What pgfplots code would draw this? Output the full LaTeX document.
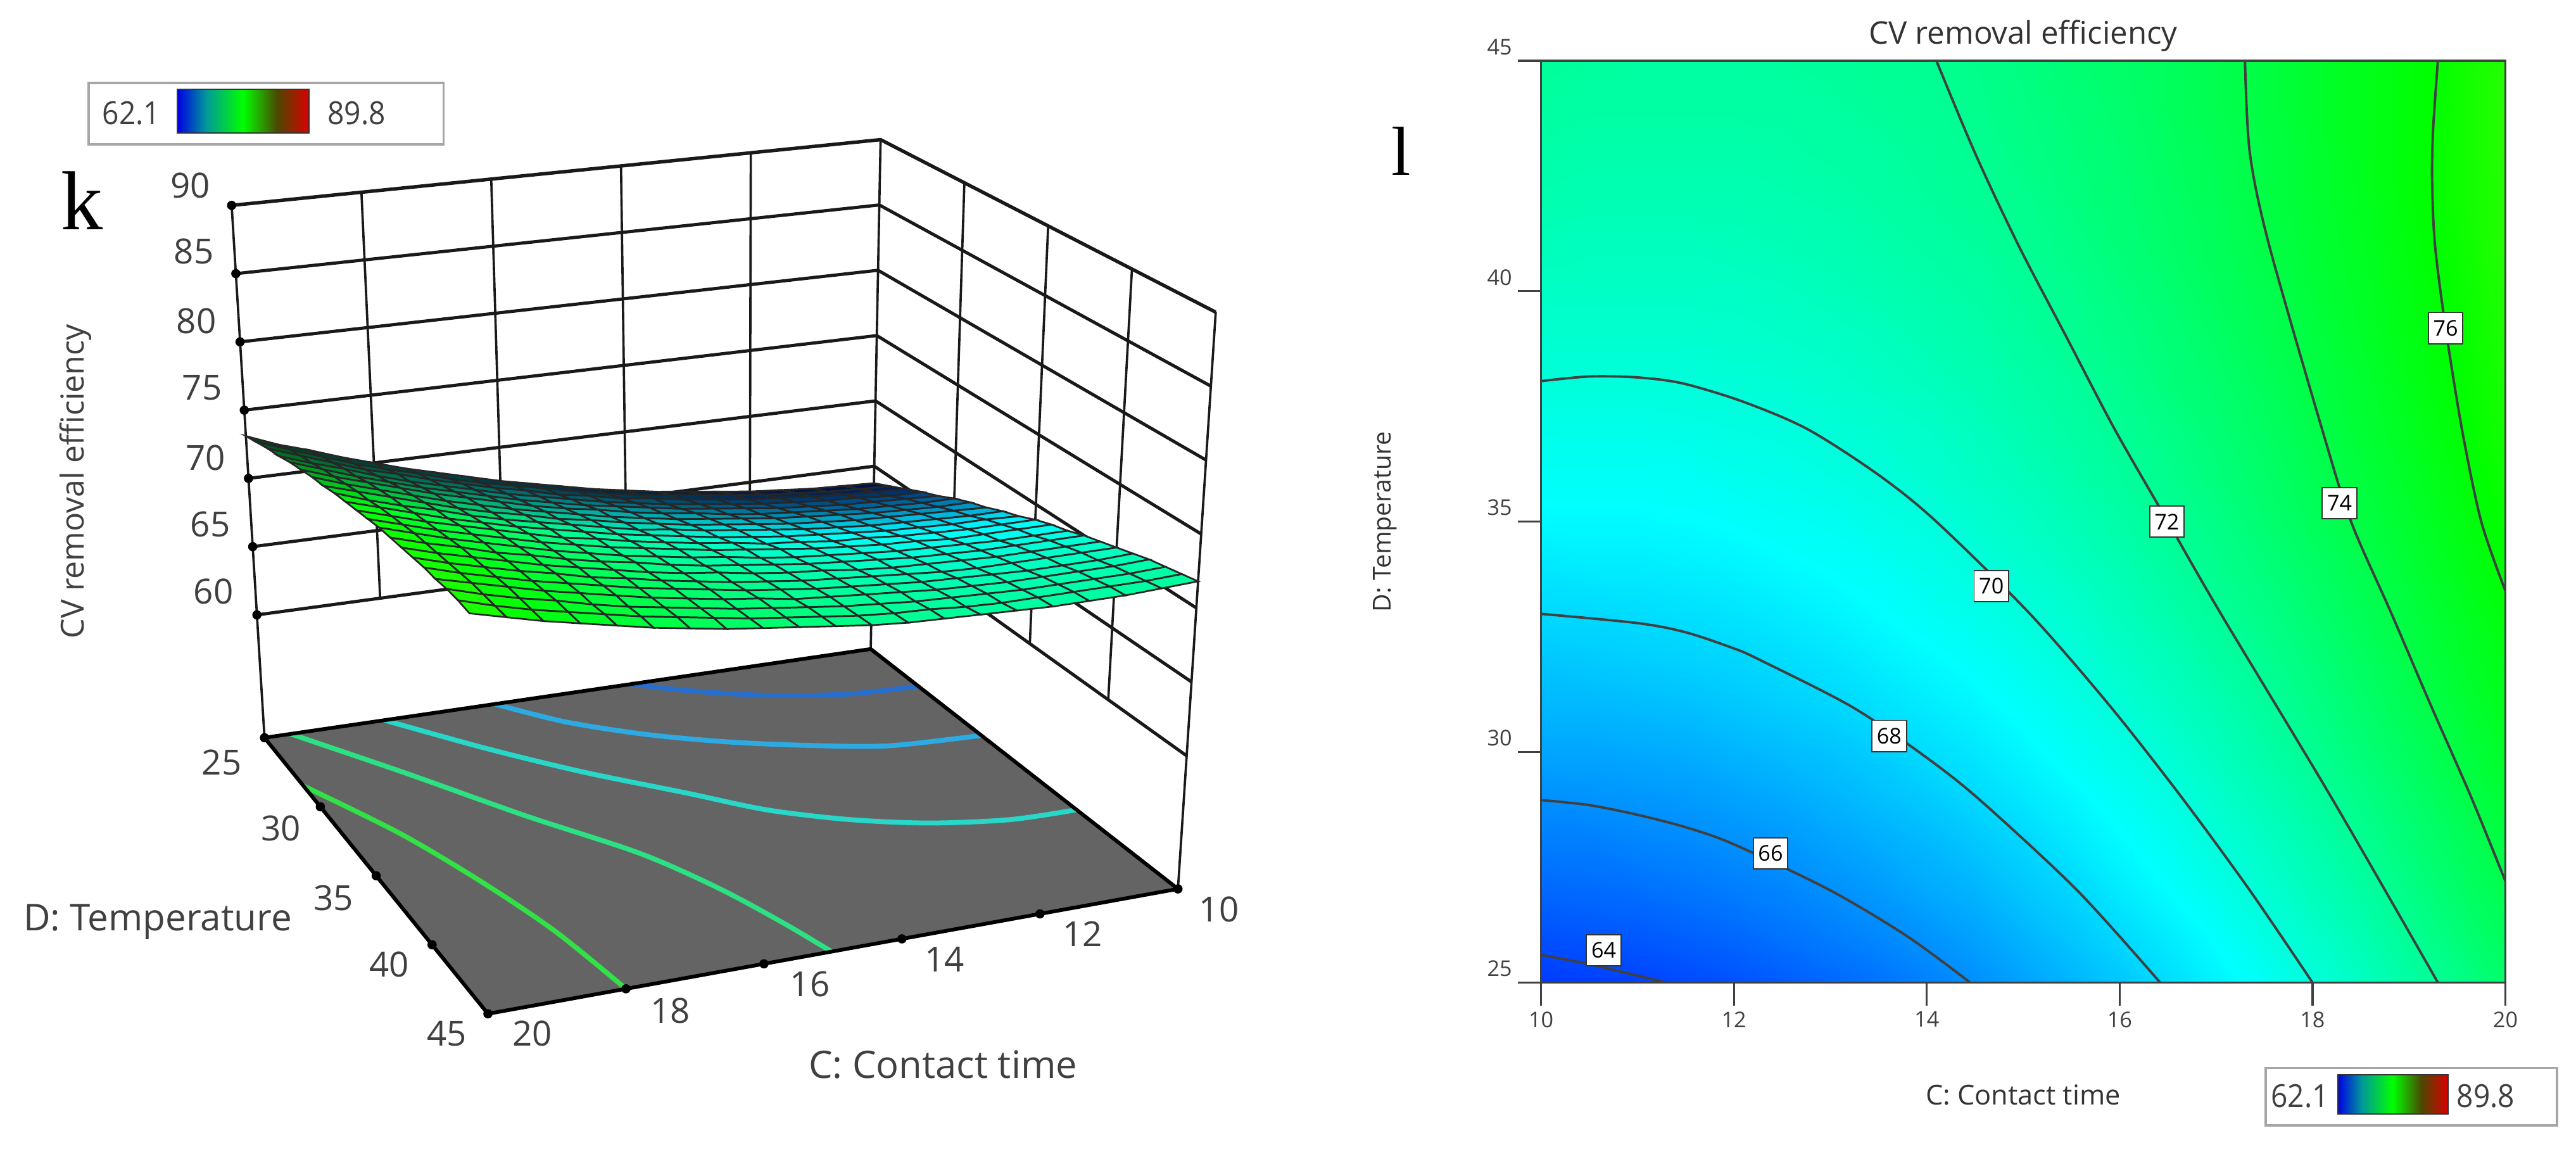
\documentclass[border=0pt]{standalone}
\usepackage{fontspec}
\setmainfont{Open Sans}
\newfontfamily\letterfont{Liberation Serif}
\usepackage{pgfplots}
\usepackage{pgfplotstable}
\pgfplotsset{compat=1.18}

\definecolor{floorgray}{RGB}{100,100,100}
\definecolor{c66}{RGB}{40,110,205}
\definecolor{c68}{RGB}{45,170,225}
\definecolor{c70}{RGB}{40,215,200}
\definecolor{c72}{RGB}{45,225,130}
\definecolor{c74}{RGB}{50,225,70}
\definecolor{wall}{RGB}{25,25,25}

\pgfdeclarehorizontalshading{legbar}{100bp}{
  color(0bp)=(blue); color(25bp)=(blue!90!black); color(36bp)=(teal!80!cyan);
  color(50bp)=(green); color(63bp)=(green!40!black!70!red); color(75bp)=(red!85!black); color(100bp)=(red)}

% C, D, response: same surface in both panels
\pgfplotstableread[row sep=\\]{
C D z\\
10 25 63.7\\ 10.5 25 63.8\\ 11 25 63.9\\ 11.5 25 64.1\\ 12 25 64.3\\ 12.5 25 64.6\\ 13 25 64.9\\ 13.5 25 65.2\\ 14 25 65.6\\ 14.5 25 66.0\\ 15 25 66.5\\ 15.5 25 67.0\\ 16 25 67.5\\ 16.5 25 68.1\\ 17 25 68.7\\ 17.5 25 69.3\\ 18 25 70.0\\ 18.5 25 70.7\\ 19 25 71.5\\ 19.5 25 72.2\\ 20 25 73.1\\
10 26 64.3\\ 10.5 26 64.4\\ 11 26 64.5\\ 11.5 26 64.7\\ 12 26 64.9\\ 12.5 26 65.2\\ 13 26 65.5\\ 13.5 26 65.8\\ 14 26 66.1\\ 14.5 26 66.5\\ 15 26 67.0\\ 15.5 26 67.5\\ 16 26 68.0\\ 16.5 26 68.5\\ 17 26 69.1\\ 17.5 26 69.8\\ 18 26 70.4\\ 18.5 26 71.1\\ 19 26 71.9\\ 19.5 26 72.7\\ 20 26 73.5\\
10 27 64.9\\ 10.5 27 65.0\\ 11 27 65.1\\ 11.5 27 65.3\\ 12 27 65.5\\ 12.5 27 65.7\\ 13 27 66.0\\ 13.5 27 66.3\\ 14 27 66.7\\ 14.5 27 67.0\\ 15 27 67.5\\ 15.5 27 67.9\\ 16 27 68.5\\ 16.5 27 69.0\\ 17 27 69.6\\ 17.5 27 70.2\\ 18 27 70.9\\ 18.5 27 71.5\\ 19 27 72.3\\ 19.5 27 73.1\\ 20 27 73.9\\
10 28 65.5\\ 10.5 28 65.5\\ 11 28 65.7\\ 11.5 28 65.8\\ 12 28 66.0\\ 12.5 28 66.2\\ 13 28 66.5\\ 13.5 28 66.8\\ 14 28 67.1\\ 14.5 28 67.5\\ 15 28 67.9\\ 15.5 28 68.4\\ 16 28 68.9\\ 16.5 28 69.4\\ 17 28 70.0\\ 17.5 28 70.6\\ 18 28 71.2\\ 18.5 28 71.9\\ 19 28 72.7\\ 19.5 28 73.4\\ 20 28 74.2\\
10 29 66.0\\ 10.5 29 66.1\\ 11 29 66.2\\ 11.5 29 66.3\\ 12 29 66.5\\ 12.5 29 66.7\\ 13 29 67.0\\ 13.5 29 67.3\\ 14 29 67.6\\ 14.5 29 68.0\\ 15 29 68.4\\ 15.5 29 68.8\\ 16 29 69.3\\ 16.5 29 69.8\\ 17 29 70.4\\ 17.5 29 71.0\\ 18 29 71.6\\ 18.5 29 72.3\\ 19 29 73.0\\ 19.5 29 73.8\\ 20 29 74.6\\
10 30 66.6\\ 10.5 30 66.6\\ 11 30 66.7\\ 11.5 30 66.8\\ 12 30 67.0\\ 12.5 30 67.2\\ 13 30 67.4\\ 13.5 30 67.7\\ 14 30 68.1\\ 14.5 30 68.4\\ 15 30 68.8\\ 15.5 30 69.3\\ 16 30 69.7\\ 16.5 30 70.2\\ 17 30 70.8\\ 17.5 30 71.4\\ 18 30 72.0\\ 18.5 30 72.7\\ 19 30 73.4\\ 19.5 30 74.1\\ 20 30 74.9\\
10 31 67.1\\ 10.5 31 67.1\\ 11 31 67.2\\ 11.5 31 67.3\\ 12 31 67.5\\ 12.5 31 67.7\\ 13 31 67.9\\ 13.5 31 68.2\\ 14 31 68.5\\ 14.5 31 68.8\\ 15 31 69.2\\ 15.5 31 69.6\\ 16 31 70.1\\ 16.5 31 70.6\\ 17 31 71.1\\ 17.5 31 71.7\\ 18 31 72.3\\ 18.5 31 73.0\\ 19 31 73.7\\ 19.5 31 74.4\\ 20 31 75.2\\
10 32 67.5\\ 10.5 32 67.6\\ 11 32 67.7\\ 11.5 32 67.8\\ 12 32 67.9\\ 12.5 32 68.1\\ 13 32 68.3\\ 13.5 32 68.6\\ 14 32 68.9\\ 14.5 32 69.2\\ 15 32 69.6\\ 15.5 32 70.0\\ 16 32 70.5\\ 16.5 32 70.9\\ 17 32 71.5\\ 17.5 32 72.0\\ 18 32 72.6\\ 18.5 32 73.3\\ 19 32 74.0\\ 19.5 32 74.7\\ 20 32 75.4\\
10 33 68.0\\ 10.5 33 68.0\\ 11 33 68.1\\ 11.5 33 68.2\\ 12 33 68.3\\ 12.5 33 68.5\\ 13 33 68.7\\ 13.5 33 69.0\\ 14 33 69.3\\ 14.5 33 69.6\\ 15 33 70.0\\ 15.5 33 70.3\\ 16 33 70.8\\ 16.5 33 71.3\\ 17 33 71.8\\ 17.5 33 72.3\\ 18 33 72.9\\ 18.5 33 73.6\\ 19 33 74.2\\ 19.5 33 74.9\\ 20 33 75.7\\
10 34 68.4\\ 10.5 34 68.5\\ 11 34 68.5\\ 11.5 34 68.6\\ 12 34 68.7\\ 12.5 34 68.9\\ 13 34 69.1\\ 13.5 34 69.3\\ 14 34 69.6\\ 14.5 34 69.9\\ 15 34 70.3\\ 15.5 34 70.7\\ 16 34 71.1\\ 16.5 34 71.6\\ 17 34 72.1\\ 17.5 34 72.6\\ 18 34 73.2\\ 18.5 34 73.8\\ 19 34 74.5\\ 19.5 34 75.2\\ 20 34 75.9\\
10 35 68.9\\ 10.5 35 68.9\\ 11 35 68.9\\ 11.5 35 69.0\\ 12 35 69.1\\ 12.5 35 69.3\\ 13 35 69.4\\ 13.5 35 69.7\\ 14 35 69.9\\ 14.5 35 70.3\\ 15 35 70.6\\ 15.5 35 71.0\\ 16 35 71.4\\ 16.5 35 71.9\\ 17 35 72.3\\ 17.5 35 72.9\\ 18 35 73.5\\ 18.5 35 74.1\\ 19 35 74.7\\ 19.5 35 75.4\\ 20 35 76.1\\
10 36 69.3\\ 10.5 36 69.3\\ 11 36 69.3\\ 11.5 36 69.3\\ 12 36 69.5\\ 12.5 36 69.6\\ 13 36 69.8\\ 13.5 36 70.0\\ 14 36 70.3\\ 14.5 36 70.6\\ 15 36 70.9\\ 15.5 36 71.3\\ 16 36 71.7\\ 16.5 36 72.1\\ 17 36 72.6\\ 17.5 36 73.1\\ 18 36 73.7\\ 18.5 36 74.3\\ 19 36 74.9\\ 19.5 36 75.6\\ 20 36 76.3\\
10 37 69.6\\ 10.5 37 69.6\\ 11 37 69.6\\ 11.5 37 69.7\\ 12 37 69.8\\ 12.5 37 69.9\\ 13 37 70.1\\ 13.5 37 70.3\\ 14 37 70.5\\ 14.5 37 70.8\\ 15 37 71.2\\ 15.5 37 71.5\\ 16 37 71.9\\ 16.5 37 72.3\\ 17 37 72.8\\ 17.5 37 73.3\\ 18 37 73.9\\ 18.5 37 74.5\\ 19 37 75.1\\ 19.5 37 75.8\\ 20 37 76.5\\
10 38 70.0\\ 10.5 38 70.0\\ 11 38 70.0\\ 11.5 38 70.0\\ 12 38 70.1\\ 12.5 38 70.2\\ 13 38 70.4\\ 13.5 38 70.6\\ 14 38 70.8\\ 14.5 38 71.1\\ 15 38 71.4\\ 15.5 38 71.7\\ 16 38 72.1\\ 16.5 38 72.6\\ 17 38 73.0\\ 17.5 38 73.5\\ 18 38 74.1\\ 18.5 38 74.6\\ 19 38 75.3\\ 19.5 38 75.9\\ 20 38 76.6\\
10 39 70.3\\ 10.5 39 70.3\\ 11 39 70.3\\ 11.5 39 70.3\\ 12 39 70.4\\ 12.5 39 70.5\\ 13 39 70.6\\ 13.5 39 70.8\\ 14 39 71.1\\ 14.5 39 71.3\\ 15 39 71.6\\ 15.5 39 72.0\\ 16 39 72.3\\ 16.5 39 72.7\\ 17 39 73.2\\ 17.5 39 73.7\\ 18 39 74.2\\ 18.5 39 74.8\\ 19 39 75.4\\ 19.5 39 76.0\\ 20 39 76.7\\
10 40 70.6\\ 10.5 40 70.6\\ 11 40 70.6\\ 11.5 40 70.6\\ 12 40 70.6\\ 12.5 40 70.7\\ 13 40 70.9\\ 13.5 40 71.1\\ 14 40 71.3\\ 14.5 40 71.5\\ 15 40 71.8\\ 15.5 40 72.1\\ 16 40 72.5\\ 16.5 40 72.9\\ 17 40 73.4\\ 17.5 40 73.8\\ 18 40 74.4\\ 18.5 40 74.9\\ 19 40 75.5\\ 19.5 40 76.1\\ 20 40 76.8\\
10 41 70.9\\ 10.5 41 70.8\\ 11 41 70.8\\ 11.5 41 70.8\\ 12 41 70.9\\ 12.5 41 71.0\\ 13 41 71.1\\ 13.5 41 71.3\\ 14 41 71.5\\ 14.5 41 71.7\\ 15 41 72.0\\ 15.5 41 72.3\\ 16 41 72.7\\ 16.5 41 73.1\\ 17 41 73.5\\ 17.5 41 74.0\\ 18 41 74.5\\ 18.5 41 75.0\\ 19 41 75.6\\ 19.5 41 76.2\\ 20 41 76.9\\
10 42 71.2\\ 10.5 42 71.1\\ 11 42 71.1\\ 11.5 42 71.1\\ 12 42 71.1\\ 12.5 42 71.2\\ 13 42 71.3\\ 13.5 42 71.5\\ 14 42 71.7\\ 14.5 42 71.9\\ 15 42 72.1\\ 15.5 42 72.5\\ 16 42 72.8\\ 16.5 42 73.2\\ 17 42 73.6\\ 17.5 42 74.1\\ 18 42 74.6\\ 18.5 42 75.1\\ 19 42 75.7\\ 19.5 42 76.3\\ 20 42 76.9\\
10 43 71.4\\ 10.5 43 71.3\\ 11 43 71.3\\ 11.5 43 71.3\\ 12 43 71.3\\ 12.5 43 71.4\\ 13 43 71.5\\ 13.5 43 71.6\\ 14 43 71.8\\ 14.5 43 72.0\\ 15 43 72.3\\ 15.5 43 72.6\\ 16 43 72.9\\ 16.5 43 73.3\\ 17 43 73.7\\ 17.5 43 74.1\\ 18 43 74.6\\ 18.5 43 75.2\\ 19 43 75.7\\ 19.5 43 76.3\\ 20 43 77.0\\
10 44 71.6\\ 10.5 44 71.5\\ 11 44 71.5\\ 11.5 44 71.5\\ 12 44 71.5\\ 12.5 44 71.5\\ 13 44 71.6\\ 13.5 44 71.8\\ 14 44 71.9\\ 14.5 44 72.1\\ 15 44 72.4\\ 15.5 44 72.7\\ 16 44 73.0\\ 16.5 44 73.4\\ 17 44 73.8\\ 17.5 44 74.2\\ 18 44 74.7\\ 18.5 44 75.2\\ 19 44 75.7\\ 19.5 44 76.3\\ 20 44 77.0\\
10 45 71.8\\ 10.5 45 71.7\\ 11 45 71.6\\ 11.5 45 71.6\\ 12 45 71.6\\ 12.5 45 71.7\\ 13 45 71.8\\ 13.5 45 71.9\\ 14 45 72.0\\ 14.5 45 72.2\\ 15 45 72.5\\ 15.5 45 72.8\\ 16 45 73.1\\ 16.5 45 73.4\\ 17 45 73.8\\ 17.5 45 74.2\\ 18 45 74.7\\ 18.5 45 75.2\\ 19 45 75.7\\ 19.5 45 76.3\\ 20 45 76.9\\
}\surfdata

% contour lines
\pgfplotstableread[row sep=\\]{C D\\ 10 25.6\\ 10.5 25.4\\ 11 25.15\\ 11.3 25\\}\csixfour
\pgfplotstableread[row sep=\\]{C D\\ 10 28.96\\ 10.5 28.85\\ 11 28.64\\ 11.5 28.37\\ 12 28\\ 13 27\\ 13.8 26\\ 14.45 25\\}\csixsix
\pgfplotstableread[row sep=\\]{C D\\ 10 33\\ 11 32.8\\ 11.5 32.6\\ 12 32.25\\ 12.27 32\\ 13.21 31\\ 13.92 30\\ 14.53 29\\ 15.56 27\\ 16.42 25\\}\csixeight
\pgfplotstableread[row sep=\\]{C D\\ 10 38.05\\ 10.5 38.15\\ 11 38.13\\ 11.47 38\\ 12.1 37.6\\ 12.77 37\\ 13.51 36\\ 14.1 35\\ 15.07 33\\ 15.9 31\\ 16.65 29\\ 17.35 27\\ 18 25\\}\csevenzero
\pgfplotstableread[row sep=\\]{C D\\ 19.3 25\\ 18.2 29\\ 17.05 33\\ 16.5 35\\ 15.95 37\\ 15.45 39\\ 14.95 41\\ 14.5 43\\ 14.1 45\\}\csseventwo
\pgfplotstableread[row sep=\\]{C D\\ 20 27.2\\ 19.65 29\\ 19.23 31\\ 18.82 33\\ 18.4 35\\ 18.1 37\\ 17.55 41\\ 17.35 43\\ 17.3 45\\}\csevenfour
\pgfplotstableread[row sep=\\]{C D\\ 20 33.5\\ 19.75 35\\ 19.55 37\\ 19.38 39.2\\ 19.27 41\\ 19.24 42.4\\ 19.25 43.5\\ 19.3 45\\}\csevensix

% contour lines read off the floor of the left panel
\pgfplotstableread[row sep=\\]{C D\\ 13.95 25\\ 13.26 26\\ 12.21 27.16\\ 11.09 27.9\\ 10 28.1\\}\fsixsix
\pgfplotstableread[row sep=\\]{C D\\ 16.2 25\\ 15.44 26.9\\ 14.49 28.56\\ 13.49 29.9\\ 12.45 31\\ 11.38 31.9\\ 10 32.2\\}\fsixeight
\pgfplotstableread[row sep=\\]{C D\\ 18.02 25\\ 16.94 27.84\\ 15.9 30.4\\ 14.78 32.9\\ 13.95 34.9\\ 13.02 36.46\\ 12.05 37.6\\ 10.98 38.3\\ 10 38.4\\}\fsevenzero
\pgfplotstableread[row sep=\\]{C D\\ 19.57 25\\ 18.4 28.64\\ 17.26 32.68\\ 16.2 36.4\\ 15.62 39.6\\ 15.25 42.6\\ 15.02 45\\}\fseventwo
\pgfplotstableread[row sep=\\]{C D\\ 20 28.5\\ 19.2 32.5\\ 18.65 36.5\\ 18.25 40.5\\ 18 45\\}\fsevenfour

\pgfplotsset{
  colormap={rsm}{rgb255=(0,0,255) rgb255=(0,255,255) rgb255=(0,255,0) rgb255=(255,255,0) rgb255=(255,0,0)},
}

% one projected line in the left panel, given as C D z rows
\newcommand{\pline}[2][]{\addplot[#1] table[row sep=\\,
  x expr={PX(\thisrow{C},\thisrow{D},\thisrow{z})},
  y expr={PY(\thisrow{C},\thisrow{D},\thisrow{z})}] {C D z\\ #2};}
\newcommand{\floorline}[2]{\addplot[smooth,line width=1.7pt,color=#1] table[
  x expr={PX(\thisrow{C},\thisrow{D},51)},
  y expr={PY(\thisrow{C},\thisrow{D},51)}] {#2};}
\newcommand{\tx}[3]{\node[font=\fontsize{12}{14}\selectfont,text=black!75,inner sep=0pt] at (axis cs:#1,#2) {#3};}
\newcommand{\lgd}[3]{\node[font=\fontsize{11}{13}\selectfont,text=black!75,inner sep=0pt,xscale=0.92] at (axis cs:#1,#2) {#3};}

\begin{document}
\begin{tikzpicture}[declare function={
  pS(\p)=(20-\p)/10; pT(\q)=(\q-25)/20; pW(\r)=(\r-51)/39;
  PX(\p,\q,\r)=(1-pW(\r))*((1-pT(\q))*((1-pS(\p))*161+pS(\p)*530)+pT(\q)*((1-pS(\p))*297+pS(\p)*717))
    +pW(\r)*((1-pT(\q))*((1-pS(\p))*141+pS(\p)*536)+pT(\q)*((1-pS(\p))*280+pS(\p)*740));
  PY(\p,\q,\r)=(1-pW(\r))*((1-pT(\q))*((1-pS(\p))*449+pS(\p)*395)+pT(\q)*((1-pS(\p))*617+pS(\p)*541))
    +pW(\r)*((1-pT(\q))*((1-pS(\p))*125+pS(\p)*85)+pT(\q)*((1-pS(\p))*250+pS(\p)*190));
  nn(\r)=(\r-62.1)/27.7;
  colr(\r)=max(0,min(1,4*nn(\r)-2));
  colg(\r)=max(0,min(min(1,4*nn(\r)),4-4*nn(\r)));
  colb(\r)=max(0,min(1,2-4*nn(\r)));
  lite(\q)=min(1,0.22+1.7*pT(\q));
}]
\useasboundingbox (0,0) rectangle (31.36cm,14.02cm);

% left panel: response surface
\begin{axis}[
  at={(0,0)}, anchor=south west,
  scale only axis, width=31.36cm, height=14.02cm,
  xmin=0, xmax=1568, ymin=0, ymax=701, y dir=reverse,
  hide axis, clip=false,
]
% back walls
\pline[wall,line width=0.8pt]{18 25 90\\ 18 25 60\\}
\pline[wall,line width=0.8pt]{16 25 90\\ 16 25 60\\}
\pline[wall,line width=0.8pt]{14 25 90\\ 14 25 60\\}
\pline[wall,line width=0.8pt]{12 25 90\\ 12 25 60\\}
\pline[wall,line width=0.8pt]{10 30 90\\ 10 30 60\\}
\pline[wall,line width=0.8pt]{10 35 90\\ 10 35 60\\}
\pline[wall,line width=0.8pt]{10 40 90\\ 10 40 60\\}
\pline[wall,line width=0.8pt]{20 25 90\\ 20 25 51\\}
\pline[wall,line width=0.8pt]{10 25 90\\ 10 25 51\\}
\pline[wall,line width=0.8pt]{10 45 90\\ 10 45 51\\}
\pline[wall,line width=1.1pt]{20 25 60\\ 10 25 60\\ 10 45 60\\}
\pline[wall,line width=1.1pt]{20 25 65\\ 10 25 65\\ 10 45 65\\}
\pline[wall,line width=1.1pt]{20 25 70\\ 10 25 70\\ 10 45 70\\}
\pline[wall,line width=1.1pt]{20 25 75\\ 10 25 75\\ 10 45 75\\}
\pline[wall,line width=1.1pt]{20 25 80\\ 10 25 80\\ 10 45 80\\}
\pline[wall,line width=1.1pt]{20 25 85\\ 10 25 85\\ 10 45 85\\}
\pline[wall,line width=1.2pt]{20 25 90\\ 10 25 90\\ 10 45 90\\}
% floor and its contours
\pline[fill=floorgray,draw=none]{20 25 51\\ 10 25 51\\ 10 45 51\\ 20 45 51\\ 20 25 51\\}
\floorline{c66}{\fsixsix}
\floorline{c68}{\fsixeight}
\floorline{c70}{\fsevenzero}
\floorline{c72}{\fseventwo}
\floorline{c74}{\fsevenfour}
\pline[black,line width=1.3pt]{20 25 51\\ 10 25 51\\ 10 45 51\\ 20 45 51\\ 20 25 51\\}
% surface
\addplot[surf,shader=faceted,faceted color=black!85,line width=0.6pt,
  mesh/rows=21,mesh/cols=21,
  mesh/color input=explicit mathparse,
  point meta={symbolic={rgb=lite(\thisrow{D})*colr(\thisrow{z}),lite(\thisrow{D})*colg(\thisrow{z}),lite(\thisrow{D})*colb(\thisrow{z})}}]
  table[x expr={PX(\thisrow{C},\thisrow{D},\thisrow{z})},y expr={PY(\thisrow{C},\thisrow{D},\thisrow{z})}] {\surfdata};
% tick dots
\pline[only marks,mark=*,mark size=1.4pt,black]{20 25 60\\ 20 25 65\\ 20 25 70\\ 20 25 75\\ 20 25 80\\ 20 25 85\\ 20 25 90\\}
\pline[only marks,mark=*,mark size=1.4pt,black]{20 25 51\\ 20 30 51\\ 20 35 51\\ 20 40 51\\ 20 45 51\\ 18 45 51\\ 16 45 51\\ 14 45 51\\ 12 45 51\\ 10 45 51\\}

% tick labels and titles
\tx{116}{113}{90}\tx{118}{153}{85}\tx{119.5}{195.5}{80}\tx{123}{236}{75}\tx{125}{278.5}{70}\tx{128}{319}{65}\tx{130}{360}{60}
\tx{135}{464}{25}\tx{171}{504}{30}\tx{203}{546.5}{35}\tx{237}{587}{40}\tx{272}{629}{45}
\tx{324}{629}{20}\tx{408}{615}{18}\tx{493}{599}{16}\tx{575}{584}{14}\tx{659}{568.5}{12}\tx{742}{553.5}{10}
\node[font=\fontsize{12.8}{15}\selectfont,text=black!75,inner sep=0pt] at (axis cs:96,561) {D: Temperature};
\node[font=\fontsize{13.1}{15}\selectfont,text=black!75,inner sep=0pt] at (axis cs:574,648) {C: Contact time};
\node[font=\fontsize{11}{13}\selectfont,text=black!75,inner sep=0pt,rotate=90] at (axis cs:46,293) {CV removal efficiency};
\node[font=\letterfont\fontsize{29}{30}\selectfont,inner sep=0pt] at (axis cs:50,122) {k};
\node[font=\letterfont\fontsize{24}{26}\selectfont,inner sep=0pt] at (axis cs:853,92) {l};

% left legend
\draw[black!35,line width=0.8pt,fill=white] (axis cs:54,50.5) rectangle (axis cs:270,88);
\shade[shading=legbar] (axis cs:108,54.5) rectangle (axis cs:188,81);
\draw[black!80,line width=0.4pt] (axis cs:108,54.5) rectangle (axis cs:188,81);
\lgd{80}{69}{62.1}\lgd{217}{69}{89.8}
% right legend
\draw[black!35,line width=0.8pt,fill=white] (axis cs:1379,650) rectangle (axis cs:1556.5,685);
\shade[shading=legbar] (axis cs:1423,654) rectangle (axis cs:1490,678);
\draw[black!80,line width=0.4pt] (axis cs:1423,654) rectangle (axis cs:1490,678);
\lgd{1400}{667}{62.1}\lgd{1513}{667}{89.8}
\end{axis}

% right panel: contour plot
\begin{axis}[
  at={(18.76cm,2.06cm)}, anchor=south west,
  scale only axis, width=11.74cm, height=11.22cm,
  xmin=10, xmax=20, ymin=25, ymax=45,
  xtick={10,12,14,16,18,20}, ytick={25,30,35,40,45},
  xtick pos=bottom, ytick pos=left, tick align=outside,
  major tick length=0.28cm,
  tick style={black!75,line width=0.7pt},
  axis line style={black!75,line width=0.7pt},
  /pgf/number format/assume math mode=true,
  tick label style={font=\fontsize{7.5}{9}\selectfont,text=black!75},
  xticklabel style={yshift=0.05cm},
  yticklabel style={yshift=0.17cm,xshift=0.05cm},
  colormap name=rsm, point meta min=62.1, point meta max=89.8,
  title={CV removal efficiency},
  title style={font=\fontsize{10.8}{12}\selectfont,text=black!80,yshift=-0.22cm},
  xlabel={C: Contact time},
  ylabel={D: Temperature},
  xlabel style={font=\fontsize{9.5}{11}\selectfont,text=black!80,yshift=-0.45cm},
  ylabel style={font=\fontsize{8.6}{10}\selectfont,text=black!80,yshift=0.86cm},
  axis on top,
]
\addplot[surf,shader=interp,mesh/rows=21,mesh/cols=21,point meta=\thisrow{z}]
  table[x=C,y=D] {\surfdata};
\addplot[smooth,black!75,line width=0.85pt] table[x=C,y=D] {\csixfour};
\addplot[smooth,black!75,line width=0.85pt] table[x=C,y=D] {\csixsix};
\addplot[smooth,black!75,line width=0.85pt] table[x=C,y=D] {\csixeight};
\addplot[smooth,black!75,line width=0.85pt] table[x=C,y=D] {\csevenzero};
\addplot[smooth,black!75,line width=0.85pt] table[x=C,y=D] {\csseventwo};
\addplot[smooth,black!75,line width=0.85pt] table[x=C,y=D] {\csevenfour};
\addplot[smooth,black!75,line width=0.85pt] table[x=C,y=D] {\csevensix};
\foreach \cx/\dy/\lab in {10.65/25.7/64,12.38/27.8/66,13.61/30.35/68,14.67/33.6/70,16.49/35.0/72,18.28/35.4/74,19.38/39.2/76}{
  \edef\temp{\noexpand\node[draw=black!80,fill=white,line width=0.4pt,inner sep=0pt,minimum width=0.42cm,minimum height=0.38cm,font=\noexpand\fontsize{7.5}{9}\noexpand\selectfont] at (axis cs:\cx,\dy) {\lab};}\temp
}
\end{axis}
\end{tikzpicture}
\end{document}
